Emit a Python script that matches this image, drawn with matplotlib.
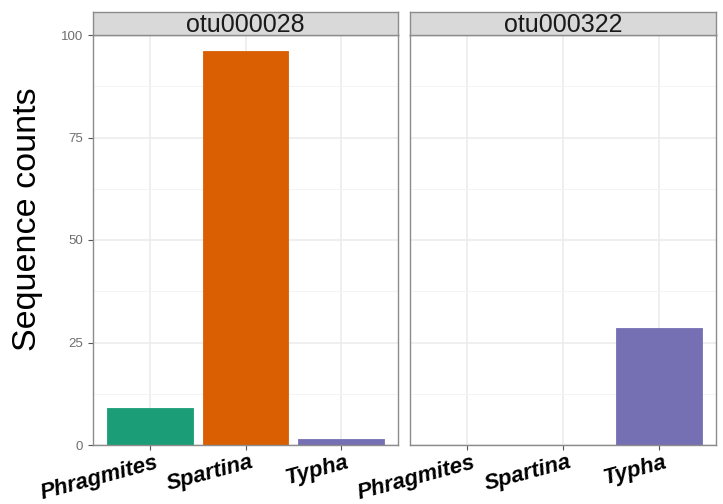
import matplotlib
matplotlib.use("Agg")
import matplotlib.pyplot as plt
import matplotlib.transforms as mtransforms
import numpy as np

plt.rcParams["font.family"] = ["Liberation Sans", "DejaVu Sans"]

categories = ["Phragmites", "Spartina", "Typha"]
panels = ["otu000028", "otu000322"]
counts_otu000028 = [9, 96, 1.5]
counts_otu000322 = [0, 0, 28.5]
colors = ["#1B9E77", "#D95F02", "#7570B3"]
y_ticks = [0, 25, 50, 75, 100]

fig = plt.figure(figsize=(7.23, 5.04), dpi=100)
H = 504.0
W = 723.0
bottom = 1 - 445 / H
height = (445 - 35) / H
ax_specs = [(93 / W, 305 / W), (410 / W, 306 / W)]

series = [counts_otu000028, counts_otu000322]
x = np.arange(1, len(categories) + 1)

# nudge rotated category labels a little to the right of their ticks
label_shift = mtransforms.ScaledTranslation(5 / 100, 0, fig.dpi_scale_trans)

for i, ((left, width), title, vals) in enumerate(zip(ax_specs, panels, series)):
    ax = fig.add_axes([left, bottom, width, height])
    ax.set_xlim(0.4, 3.6)
    ax.set_ylim(0, 100)
    ax.set_yticks(y_ticks)
    ax.set_yticks([12.5, 37.5, 62.5, 87.5], minor=True)
    ax.set_xticks(x)
    ax.grid(True, which="major", color="#EBEBEB", linewidth=1.1, zorder=0)
    ax.grid(True, which="minor", axis="y", color="#F3F3F3", linewidth=0.6, zorder=0)
    ax.set_axisbelow(True)
    ax.bar(x, vals, width=0.9, color=colors, edgecolor=colors, linewidth=0.6, zorder=2)
    for s in ax.spines.values():
        s.set_color("#8C8C8C")
        s.set_linewidth(1.0)
    ax.tick_params(axis="both", which="minor", length=0)
    ax.tick_params(axis="both", which="major", length=3.5, color="#555555", width=0.8)
    ax.tick_params(axis="x", pad=1.5)
    ax.set_xticklabels(categories, rotation=15, ha="right", rotation_mode="anchor",
                       fontsize=16, fontweight="bold", fontstyle="italic", color="black")
    for lbl in ax.get_xticklabels():
        lbl.set_transform(lbl.get_transform() + label_shift)
    if i == 0:
        ax.set_yticklabels([str(v) for v in y_ticks], fontsize=9.5, color="#6E6E6E")
        ax.set_ylabel("Sequence counts", fontsize=24.5)
        ax.yaxis.set_label_coords(-0.165, 0.55)
    else:
        ax.set_yticklabels([])
        ax.tick_params(axis="y", which="major", length=0)
    # facet strip
    strip = fig.add_axes([left, 1 - 35 / H, width, 23 / H])
    strip.set_facecolor("#D9D9D9")
    strip.set_xticks([])
    strip.set_yticks([])
    for s in strip.spines.values():
        s.set_color("#8C8C8C")
        s.set_linewidth(1.0)
    strip.text(0.5, 0.45, title, ha="center", va="center", fontsize=18, color="#1A1A1A",
               transform=strip.transAxes)

fig.savefig("out.png", dpi=100, facecolor="white")
